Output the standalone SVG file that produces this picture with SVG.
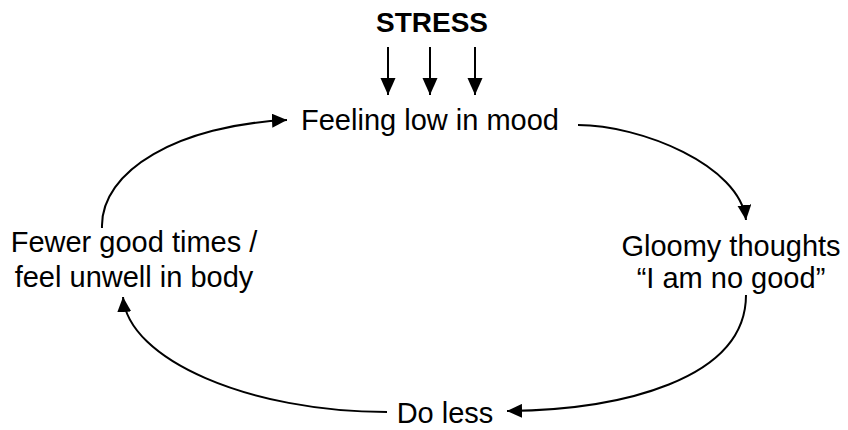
<svg xmlns="http://www.w3.org/2000/svg" width="848" height="430" viewBox="0 0 848 430">
  <defs>
    <style>
      .t { font-family: "Liberation Sans", Arial, sans-serif; font-size: 29px; fill: #000; text-anchor: middle; }
      .b { font-weight: bold; font-size: 28px; }
      .c { fill: none; stroke: #000; stroke-width: 2; }
    </style>
    <marker id="ah" markerUnits="userSpaceOnUse" markerWidth="16" markerHeight="14" refX="15" refY="7" orient="auto" viewBox="0 0 16 14">
      <path d="M0,0 L15,7 L0,14 z" fill="#000"/>
    </marker>
    <marker id="ahs" markerUnits="userSpaceOnUse" markerWidth="18" markerHeight="16" refX="17" refY="7.5" orient="auto" viewBox="0 0 18 16">
      <path d="M0,0 L17,7.5 L0,15 z" fill="#000"/>
    </marker>
  </defs>
  <rect width="848" height="430" fill="#fff"/>

  <g id="stress">
    <text class="t b" x="432" y="32">STRESS</text>
  </g>
  <g id="feeling-low">
    <text class="t" x="430" y="130">Feeling low in mood</text>
  </g>
  <g id="gloomy-thoughts">
    <text class="t" x="731" y="256">Gloomy thoughts</text>
    <text class="t" x="731" y="288">“I am no good”</text>
  </g>
  <g id="do-less">
    <text class="t" x="445" y="423">Do less</text>
  </g>
  <g id="fewer-good-times">
    <text class="t" x="134" y="252">Fewer good times /</text>
    <text class="t" x="134" y="287">feel unwell in body</text>
  </g>

  <g id="connectors">
    <path class="c" d="M388,47 L388,95" marker-end="url(#ahs)"/>
    <path class="c" d="M430,47 L430,95" marker-end="url(#ahs)"/>
    <path class="c" d="M475,47 L475,95" marker-end="url(#ahs)"/>
    <path class="c" d="M578,125 C640,125 740,165 746,220" marker-end="url(#ah)"/>
    <path class="c" d="M746,295 C746,380 620,410 507,411" marker-end="url(#ah)"/>
    <path class="c" d="M387,412 C250,412 128,360 123,297" marker-end="url(#ah)"/>
    <path class="c" d="M102,228 C100,170 180,125 287,120" marker-end="url(#ah)"/>
  </g>
</svg>
